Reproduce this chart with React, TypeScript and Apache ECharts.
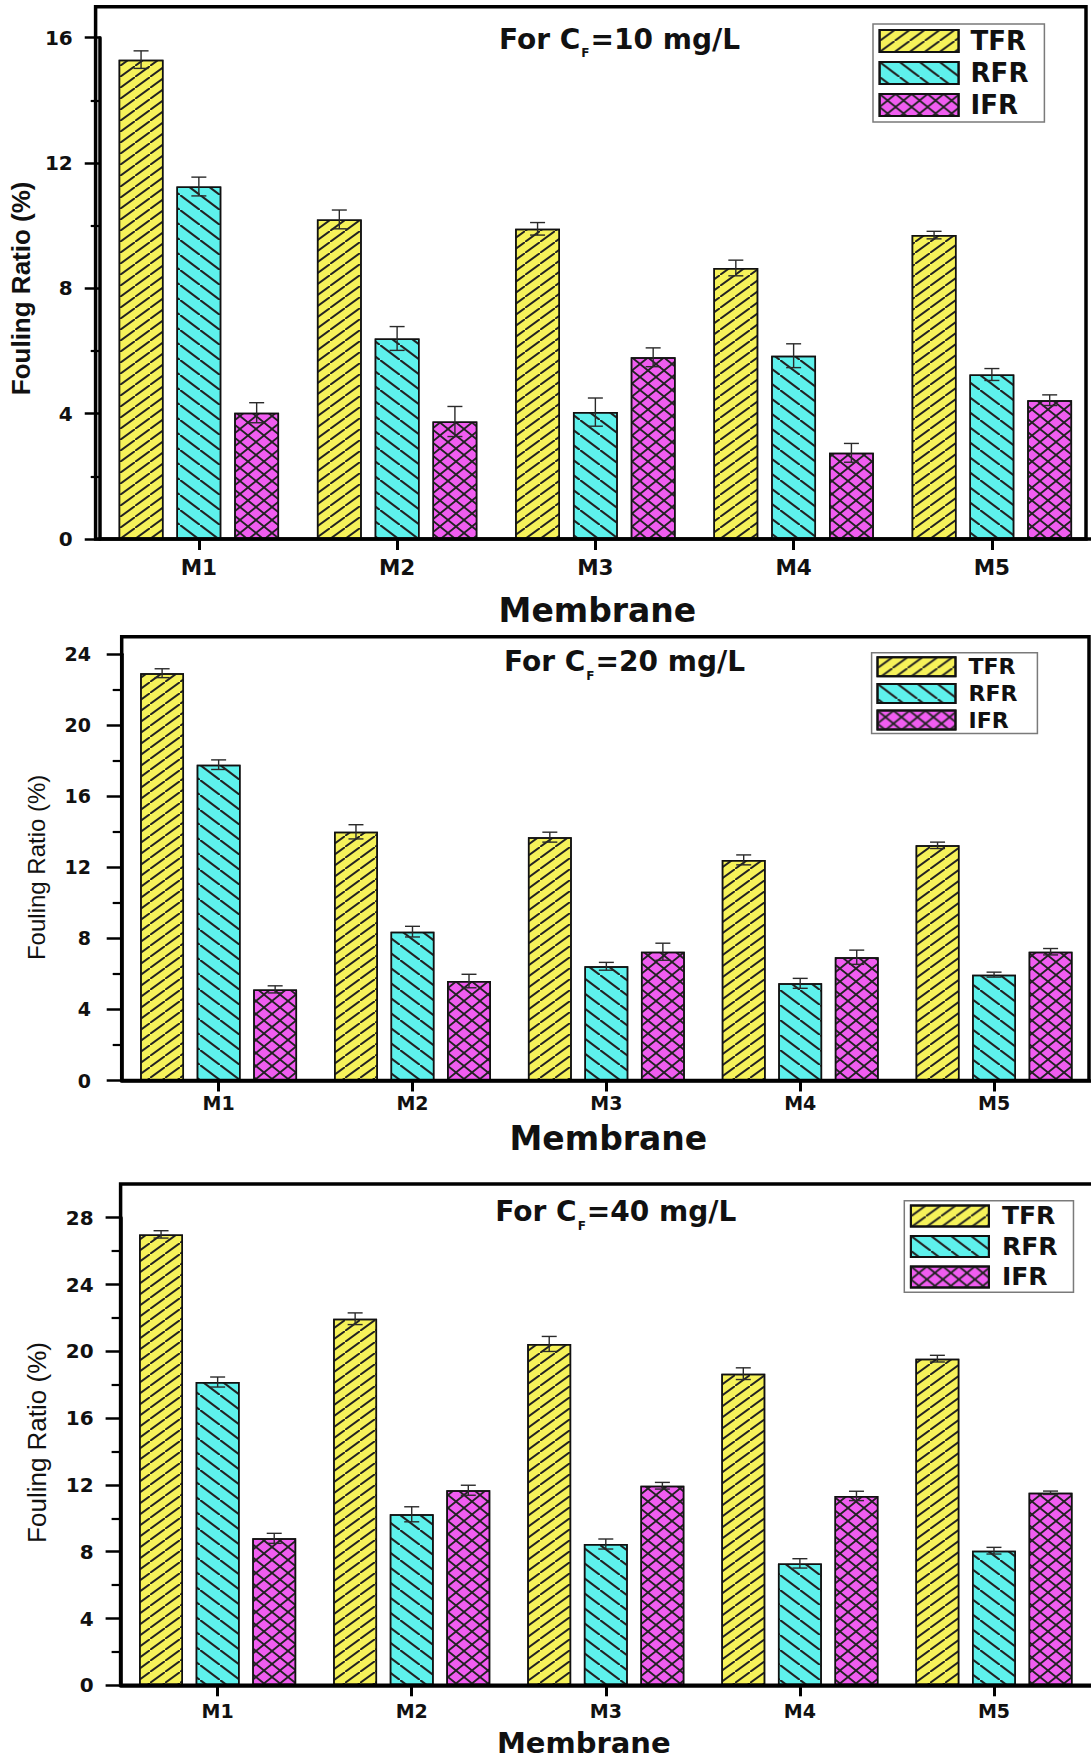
import React, { useEffect, useRef } from 'react';
import * as echarts from 'echarts';

// ---------------- data ----------------
const categories = ['M1', 'M2', 'M3', 'M4', 'M5'];
const seriesNames = ['TFR', 'RFR', 'IFR'];
const concentrations = ['10', '20', '40'];
const yMaxValues = [16, 24, 28];
const yInterval = 4;

// C_F = 10 mg/L
const tfr10 = [15.3, 10.2, 9.9, 8.65, 9.7];
const tfr10Err = [0.28, 0.3, 0.2, 0.25, 0.12];
const rfr10 = [11.25, 6.4, 4.05, 5.85, 5.25];
const rfr10Err = [0.3, 0.38, 0.45, 0.38, 0.19];
const ifr10 = [4.03, 3.75, 5.8, 2.75, 4.43];
const ifr10Err = [0.32, 0.48, 0.3, 0.3, 0.17];

// C_F = 20 mg/L
const tfr20 = [22.93, 14.0, 13.7, 12.42, 13.24];
const tfr20Err = [0.25, 0.4, 0.28, 0.28, 0.18];
const rfr20 = [17.78, 8.38, 6.43, 5.47, 5.96];
const rfr20Err = [0.27, 0.3, 0.22, 0.28, 0.14];
const ifr20 = [5.13, 5.6, 7.25, 6.94, 7.25];
const ifr20Err = [0.2, 0.38, 0.48, 0.4, 0.18];

// C_F = 40 mg/L
const tfr40 = [27.0, 21.95, 20.44, 18.66, 19.56];
const tfr40Err = [0.22, 0.35, 0.45, 0.35, 0.2];
const rfr40 = [18.16, 10.24, 8.46, 7.3, 8.06];
const rfr40Err = [0.3, 0.45, 0.3, 0.28, 0.2];
const ifr40 = [8.8, 11.68, 11.95, 11.34, 11.53];
const ifr40Err = [0.3, 0.3, 0.2, 0.28, 0.1];

const panelValues = [
  [tfr10, rfr10, ifr10],
  [tfr20, rfr20, ifr20],
  [tfr40, rfr40, ifr40],
];
const panelErrors = [
  [tfr10Err, rfr10Err, ifr10Err],
  [tfr20Err, rfr20Err, ifr20Err],
  [tfr40Err, rfr40Err, ifr40Err],
];

// ---------------- styles / layout ----------------
const FONT = "'DejaVu Sans', 'Liberation Sans', sans-serif";
const ARIAL = "'Liberation Sans', Arial, sans-serif";
const BAR_W = 0.226;
const BAR_GAP = 0.29;
const colors = ['#F6F25A', '#5EF1EC', '#F05DF0'];

const decals: any[] = [
  {
    symbol: 'path://M0,100L0,89L89,0L100,0L100,11L11,100Z',
    symbolSize: 1,
    symbolKeepAspect: false,
    dashArrayX: [15, 0],
    dashArrayY: [11, 0],
    color: '#222222',
    rotation: 0,
  },
  {
    symbol: 'path://M0,0L9,0L100,91L100,100L91,100L0,9Z',
    symbolSize: 1,
    symbolKeepAspect: false,
    dashArrayX: [20, 0],
    dashArrayY: [15, 0],
    color: '#222222',
    rotation: 0,
  },
  {
    symbol:
      'path://M0,0L9,0L50,41L91,0L100,0L100,9L59,50L100,91L100,100L91,100L50,59L9,100L0,100L0,91L41,50L0,9Z',
    symbolSize: 1,
    symbolKeepAspect: false,
    dashArrayX: [16, 0],
    dashArrayY: [13, 0],
    color: '#222222',
    rotation: 0,
  },
];

const panels = [
  {
    frame: { x: 95.6, y: 6.7, w: 990.4, h: 532.3 },
    grid: { left: 95.6, top: 37.7, width: 996.5, height: 501.3 },
    title: { left: 499, top: 19.3 },
    legend: { left: 873, top: 24, itemW: 79, itemH: 22, gap: 6, font: 26, pad: [4, 16, 4, 5.6], textPad: 7 },
    tickFont: 20, tickMargin: 27, catFont: 21.5, catMargin: 17,
    xName: { gap: 55.4, font: 33, pad: [0, 0, 0, 4] },
    yName: { gap: 44, font: 26, weight: 'bold', pad: [0, 0, 0, 0] },
  },
  {
    frame: { x: 121.7, y: 636.7, w: 967.3, h: 443.8 },
    grid: { left: 121.7, top: 654.2, width: 974.5, height: 426.3 },
    title: { left: 504, top: 641.7 },
    legend: { left: 871.6, top: 652.7, itemW: 78, itemH: 19, gap: 4.7, font: 22, pad: [3, 20, 2.3, 4.9], textPad: 8 },
    tickFont: 19, tickMargin: 30.7, catFont: 19, catMargin: 12.5,
    xName: { gap: 41, font: 33, pad: [0, 0, 0, 4] },
    yName: { gap: 73.5, font: 24, weight: 'normal', pad: [0, 0, 0, 0] },
  },
  {
    frame: { x: 120.6, y: 1184, w: 983.4, h: 501.3 },
    grid: { left: 120.6, top: 1217.7, width: 983.4, height: 467.6 },
    title: { left: 495.3, top: 1191.7 },
    legend: { left: 904.3, top: 1200.7, itemW: 78, itemH: 21, gap: 5.5, font: 25, pad: [2.7, 16, 2.8, 5.6], textPad: 8 },
    tickFont: 20, tickMargin: 27, catFont: 19, catMargin: 16.2,
    xName: { gap: 43.2, font: 29, pad: [0, 44, 0, 0] },
    yName: { gap: 70.8, font: 26, weight: 'normal', pad: [0, 0, 0, 18] },
  },
];

function renderErrorBar(params: any, api: any) {
  const ci = api.value(0);
  const v = api.value(1);
  const e = api.value(2);
  const k = api.value(3);
  const band = api.size([1, 0])[0];
  const bw = band * BAR_W;
  const off = (k - 1) * bw * (1 + BAR_GAP);
  const hi = api.coord([ci, v + e]);
  const lo = api.coord([ci, v - e]);
  const x = hi[0] + off;
  const cw = 7.5;
  const style = { stroke: '#2a2a2a', lineWidth: 1.4, fill: null };
  return {
    type: 'group',
    children: [
      { type: 'line', shape: { x1: x, y1: hi[1], x2: x, y2: lo[1] }, style },
      { type: 'line', shape: { x1: x - cw, y1: hi[1], x2: x + cw, y2: hi[1] }, style },
      { type: 'line', shape: { x1: x - cw, y1: lo[1], x2: x + cw, y2: lo[1] }, style },
    ],
  };
}

function buildOption() {
  const grid: any[] = [];
  const xAxis: any[] = [];
  const yAxis: any[] = [];
  const series: any[] = [];
  const legend: any[] = [];
  const title: any[] = [];
  const graphic: any[] = [];

  panels.forEach((p, pi) => {
    grid.push({ ...p.grid, containLabel: false });
    xAxis.push({
      type: 'category',
      gridIndex: pi,
      data: categories,
      boundaryGap: true,
      name: 'Membrane',
      nameLocation: 'middle',
      nameGap: p.xName.gap,
      nameTextStyle: {
        fontFamily: FONT,
        fontWeight: 'bold',
        fontSize: p.xName.font,
        color: '#111',
        padding: p.xName.pad,
      },
      axisLine: { show: true, lineStyle: { color: '#000', width: 3.5 } },
      axisTick: { show: true, alignWithLabel: true, length: 11, lineStyle: { color: '#000', width: 3 } },
      axisLabel: {
        fontFamily: FONT,
        fontWeight: 'bold',
        fontSize: p.catFont,
        color: '#111',
        margin: p.catMargin,
        interval: 0,
      },
      splitLine: { show: false },
    });
    yAxis.push({
      type: 'value',
      gridIndex: pi,
      min: 0,
      max: yMaxValues[pi],
      interval: yInterval,
      name: 'Fouling Ratio (%)',
      nameLocation: 'middle',
      nameRotate: 90,
      nameGap: p.yName.gap,
      nameTextStyle: {
        fontFamily: ARIAL,
        fontWeight: p.yName.weight,
        fontSize: p.yName.font,
        color: '#111',
        padding: p.yName.pad,
      },
      axisLine: { show: true, lineStyle: { color: '#000', width: 3.5 } },
      axisTick: { show: true, inside: false, length: 15, lineStyle: { color: '#000', width: 2.5 } },
      minorTick: { show: true, splitNumber: 2, length: 9, lineStyle: { color: '#000', width: 2.2 } },
      axisLabel: {
        fontFamily: FONT,
        fontWeight: 'bold',
        fontSize: p.tickFont,
        color: '#111',
        margin: p.tickMargin,
      },
      splitLine: { show: false },
      minorSplitLine: { show: false },
    });

    seriesNames.forEach((name, si) => {
      series.push({
        type: 'bar',
        name,
        xAxisIndex: pi,
        yAxisIndex: pi,
        data: panelValues[pi][si],
        barWidth: `${BAR_W * 100}%`,
        barGap: `${BAR_GAP * 100}%`,
        itemStyle: {
          color: colors[si],
          borderColor: '#111',
          borderWidth: 1.5,
          decal: decals[si],
        },
        emphasis: { disabled: true },
        z: 2,
      });
    });

    const errData: any[] = [];
    seriesNames.forEach((_, si) => {
      panelValues[pi][si].forEach((v, ci) => {
        errData.push([ci, v, panelErrors[pi][si][ci], si]);
      });
    });
    series.push({
      type: 'custom',
      name: 'error',
      xAxisIndex: pi,
      yAxisIndex: pi,
      data: errData,
      encode: { x: 0, y: 1 },
      renderItem: renderErrorBar,
      clip: false,
      z: 5,
      silent: true,
    });

    const lg = p.legend;
    legend.push({
      data: seriesNames,
      orient: 'vertical',
      left: lg.left,
      top: lg.top,
      itemWidth: lg.itemW,
      itemHeight: lg.itemH,
      itemGap: lg.gap,
      icon: 'rect',
      padding: lg.pad,
      borderColor: '#7a7a7a',
      borderWidth: 1.5,
      backgroundColor: '#fff',
      selectedMode: false,
      textStyle: {
        fontFamily: FONT,
        fontWeight: 'bold',
        fontSize: lg.font,
        color: '#111',
        padding: [0, 0, 0, lg.textPad],
      },
    });

    title.push({
      text: `{a|For C}{b|F}{a|=${concentrations[pi]} mg/L}`,
      left: p.title.left,
      top: p.title.top,
      padding: 0,
      textStyle: {
        rich: {
          a: { fontFamily: FONT, fontWeight: 'bold', fontSize: 28, color: '#111' },
          b: { fontFamily: FONT, fontWeight: 'bold', fontSize: 12, color: '#111', padding: [28, 1, 0, 1] },
        },
      },
    });

    graphic.push({
      type: 'rect',
      shape: { x: p.frame.x, y: p.frame.y, width: p.frame.w, height: p.frame.h },
      style: { fill: null, stroke: '#000', lineWidth: 3.5 },
      z: 10,
      silent: true,
    });
  });

  return {
    animation: false,
    backgroundColor: '#fff',
    title,
    legend,
    grid,
    xAxis,
    yAxis,
    series,
    graphic,
  };
}

export default function App() {
  const ref = useRef<HTMLDivElement>(null);
  useEffect(() => {
    if (!ref.current) return;
    const chart = echarts.init(ref.current, null, { renderer: 'svg' });
    chart.setOption(buildOption() as any);
    return () => {
      chart.dispose();
    };
  }, []);
  return (
    <div
      ref={ref}
      style={{ position: 'absolute', left: 0, top: 0, width: 1091, height: 1762, background: '#fff' }}
    />
  );
}
